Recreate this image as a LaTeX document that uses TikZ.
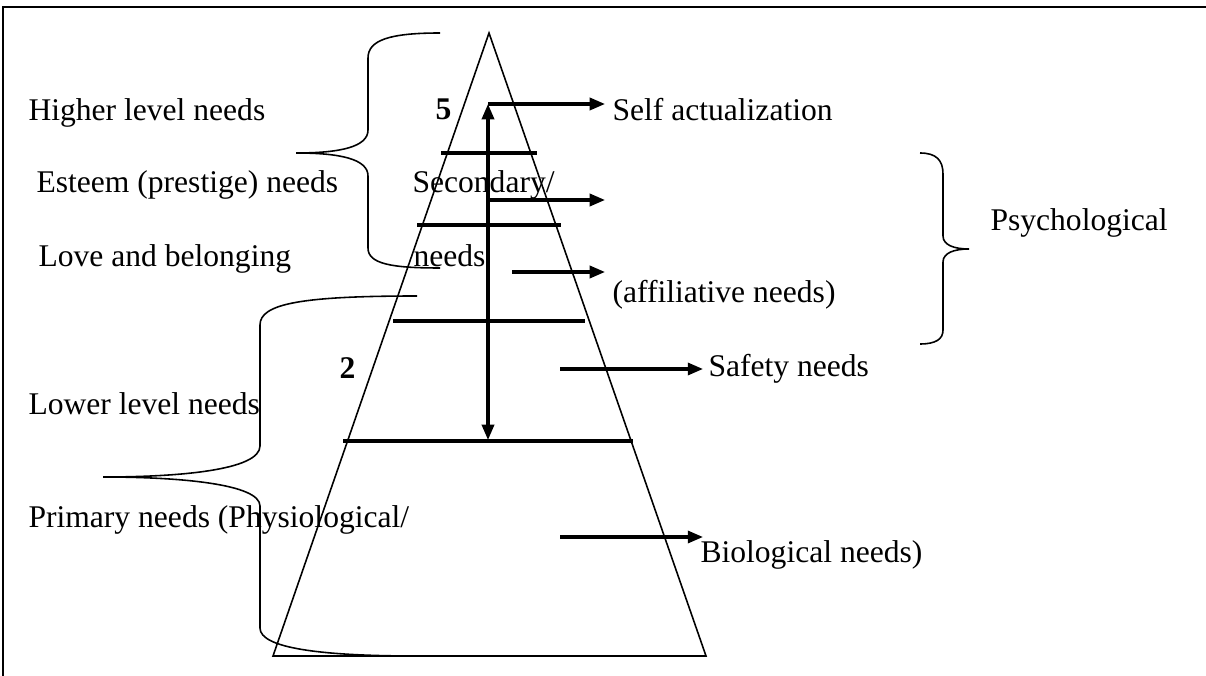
\documentclass[tikz,border=0pt]{standalone}
\usepackage{fontspec}
\setmainfont{Liberation Serif}
\usetikzlibrary{arrows.meta,positioning}

\begin{document}
\begin{tikzpicture}[x=0.38pt,y=-0.38pt]

\tikzset{need text/.style={anchor=base west,inner sep=0pt,font=\fontsize{12}{14}\selectfont},
	level number/.style={need text,font=\fontsize{12}{14}\selectfont\bfseries},
	thin line/.style={line width=0.6pt},
	level line/.style={line width=1.15pt},
	need arrow/.style={line width=1.15pt,-{Triangle[length=5.8pt,width=4.6pt]}},
	span arrow/.style={line width=1.15pt,{Triangle[length=5.8pt,width=4.6pt]}-{Triangle[length=5.8pt,width=4.6pt]}}
}

\useasboundingbox (0,0) rectangle (1206,676);
\draw[line width=0.75pt] (3,676) -- (3,7) -- (1206,7);

% pyramid
\coordinate (apex) at (489,33);
\coordinate (baseL) at (273,656);
\coordinate (baseR) at (706,656);
\draw[thin line] (baseL) -- (apex) -- (baseR) -- cycle;

\foreach \y/\xa/\xb in {153/441/537, 225/417/561, 321/393/585, 441/343/633}
	\draw[level line] (\xa,\y) -- (\xb,\y);

% texts
\node[need text] (higher) at (28,121) {Higher level needs};
\node[need text] (esteem) at (36,193) {Esteem (prestige) needs};
\node[need text] (love) at (38,267) {Love and belonging};
\node[need text] (lower) at (28,415) {Lower level needs};
\node[need text] (primary) at (28,527) {Primary needs (Physiological/};
\node[need text] (secondary) at (412,193) {Secondary/};
\node[need text] (needs) at (413,267) {needs};
\node[level number] (five) at (435,120) {5};
\node[level number] (two) at (339,379) {2};
\node[need text] (self) at (612,121) {Self actualization};
\node[need text] (affil) at (612,303) {(affiliative needs)};
\node[need text] (safety) at (708,377) {Safety needs};
\node[need text] (bio) at (700,562) {Biological needs)};
\node[need text] (psych) at (990,231) {Psychological};

% arrows
\coordinate (top) at (488,104);
\coordinate (bottom) at (488,440);
\coordinate (selfend) at (605,104);
\coordinate (esteemstart) at (490,200);
\coordinate (esteemend) at (605,200);
\coordinate (lovestart) at (512,272);
\coordinate (loveend) at (605,272);
\coordinate (safetystart) at (560,369);
\coordinate (safetyend) at (703,369);
\coordinate (biostart) at (560,537);
\coordinate (bioend) at (703,537);

\draw[span arrow] (bottom) -- (top);
\draw[need arrow] (top) -- (selfend);
\draw[need arrow] (esteemstart) -- (esteemend);
\draw[need arrow] (lovestart) -- (loveend);
\draw[need arrow] (safetystart) -- (safetyend);
\draw[need arrow] (biostart) -- (bioend);

% braces
\draw[thin line] (440,33) .. controls (390,33) and (368,40) .. (368,58) -- (368,130)
	.. controls (368,147) and (340,153) .. (296,153)
	.. controls (340,153) and (368,159) .. (368,176) -- (368,248)
	.. controls (368,264) and (392,268) .. (440,268);
\draw[thin line] (417,296) .. controls (300,296) and (260,304) .. (260,325) -- (260,446)
	.. controls (260,470) and (180,477) .. (103,477)
	.. controls (180,477) and (260,484) .. (260,506) -- (260,628)
	.. controls (260,648) and (320,656) .. (417,656);
\draw[thin line] (920,153) .. controls (936,153) and (943,160) .. (943,174) -- (943,236)
	.. controls (943,245) and (954,249) .. (969,249)
	.. controls (954,249) and (943,253) .. (943,262) -- (943,330)
	.. controls (943,339) and (936,344) .. (920,344);

\end{tikzpicture}
\end{document}
